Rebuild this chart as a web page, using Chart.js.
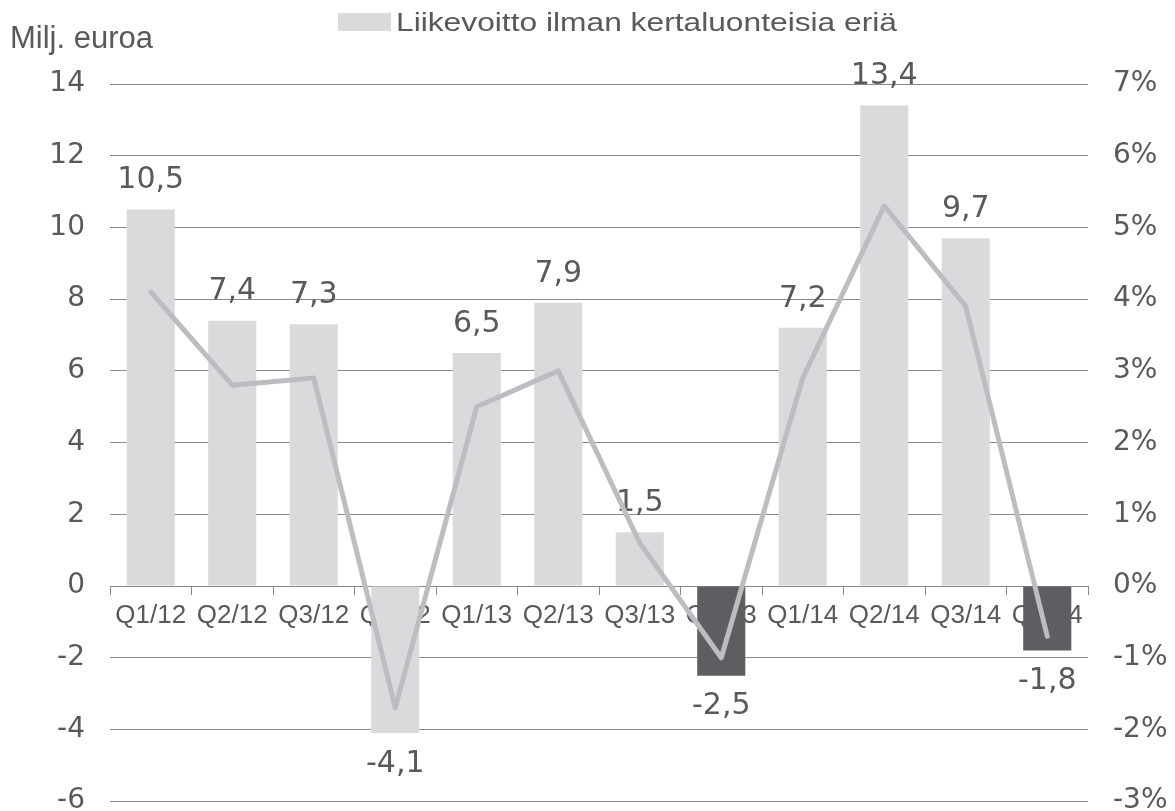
<!DOCTYPE html>
<html>
<head>
<meta charset="utf-8">
<script src="https://cdn.jsdelivr.net/npm/chart.js@4.4.0/dist/chart.umd.min.js"></script>
<style>
html, body { margin: 0; padding: 0; background: #fff; overflow: hidden; }
</style>
</head>
<body>
<canvas id="chart" width="1175" height="843"></canvas>
<script>
var quarters = ["Q1/12", "Q2/12", "Q3/12", "Q4/12", "Q1/13", "Q2/13", "Q3/13", "Q4/13", "Q1/14", "Q2/14", "Q3/14", "Q4/14"];
var profit = [10.5, 7.4, 7.3, -4.1, 6.5, 7.9, 1.5, -2.5, 7.2, 13.4, 9.7, -1.8];
var marginPct = [4.1, 2.8, 2.9, -1.7, 2.5, 3.0, 0.6, -1.0, 2.9, 5.3, 3.9, -0.7];
var darkQuarters = ["Q4/13", "Q4/14"];
var leftRange = [-6, 14];
var rightRange = [-3, 7];
var axisTitle = "Milj. euroa";
var legendLabel = "Liikevoitto ilman kertaluonteisia eriä";

var textColor = "#595959";
var gridColor = "#8a8a8a";

var headerPlugin = {
    id: "header",
    afterDraw: function (chart) {
        var ctx = chart.ctx;
        ctx.save();
        ctx.fillStyle = textColor;
        ctx.font = "31px 'Liberation Sans'";
        ctx.fillText(axisTitle, 10, 48);
        ctx.fillStyle = "#dad9db";
        ctx.fillRect(338, 13, 53, 18);
        ctx.font = "26px 'Liberation Sans'";
        var w = ctx.measureText(legendLabel).width;
        ctx.translate(396, 31);
        ctx.scale(501 / w, 1);
        ctx.fillStyle = textColor;
        ctx.fillText(legendLabel, 0, 0);
        ctx.restore();
    }
};

var barLabels = {
    id: "barLabels",
    afterDatasetDraw: function (chart, args) {
        if (args.index !== 0) return;
        var ctx = chart.ctx;
        ctx.save();
        ctx.font = "30px 'DejaVu Sans'";
        ctx.fillStyle = textColor;
        ctx.textAlign = "center";
        ctx.textBaseline = "middle";
        args.meta.data.forEach(function (bar, i) {
            var v = profit[i];
            var y = v >= 0 ? bar.y - 29 : bar.y + 31;
            ctx.fillText(v.toFixed(1).replace(".", ","), bar.x, y);
        });
        ctx.restore();
    }
};

new Chart(document.getElementById("chart").getContext("2d"), {
    type: "bar",
    data: {
        labels: quarters,
        datasets: [
            {
                type: "bar",
                label: legendLabel,
                data: profit,
                yAxisID: "y",
                order: 1,
                backgroundColor: quarters.map(function (q) {
                    return darkQuarters.indexOf(q) >= 0 ? "#5e5d62" : "#dad9db";
                }),
                borderWidth: 0,
                barPercentage: 0.59,
                categoryPercentage: 1
            },
            {
                type: "line",
                label: "Liikevoittoprosentti",
                data: marginPct,
                yAxisID: "y1",
                order: 0,
                borderColor: "#bdbcc1",
                borderWidth: 5,
                pointRadius: 0,
                tension: 0,
                borderCapStyle: "round",
                borderJoinStyle: "round"
            }
        ]
    },
    options: {
        responsive: false,
        animation: false,
        layout: { padding: { top: 84, bottom: 0, left: 0, right: 0 } },
        plugins: { legend: { display: false }, tooltip: { enabled: false } },
        scales: {
            x: {
                position: { y: 0 },
                grid: {
                    display: true,
                    drawOnChartArea: false,
                    drawTicks: true,
                    tickLength: 8,
                    color: gridColor,
                    offset: true
                },
                border: { display: true, color: gridColor, width: 1 },
                ticks: {
                    color: textColor,
                    font: { family: "'Liberation Sans'", size: 26 },
                    padding: 6,
                    autoSkip: false,
                    maxRotation: 0
                }
            },
            y: {
                position: "left",
                min: leftRange[0],
                max: leftRange[1],
                afterFit: function (scale) { scale.width = 110; },
                grid: { color: gridColor, drawTicks: false },
                border: { display: false },
                ticks: {
                    stepSize: 2,
                    padding: 25,
                    color: textColor,
                    font: { family: "'DejaVu Sans'", size: 28 }
                }
            },
            y1: {
                position: "right",
                min: rightRange[0],
                max: rightRange[1],
                afterFit: function (scale) { scale.width = 87; },
                grid: { drawOnChartArea: false, drawTicks: false },
                border: { display: false },
                ticks: {
                    stepSize: 1,
                    padding: 25,
                    color: textColor,
                    font: { family: "'DejaVu Sans'", size: 28 },
                    callback: function (v) { return v + "%"; }
                }
            }
        }
    },
    plugins: [headerPlugin, barLabels]
});
</script>
</body>
</html>
